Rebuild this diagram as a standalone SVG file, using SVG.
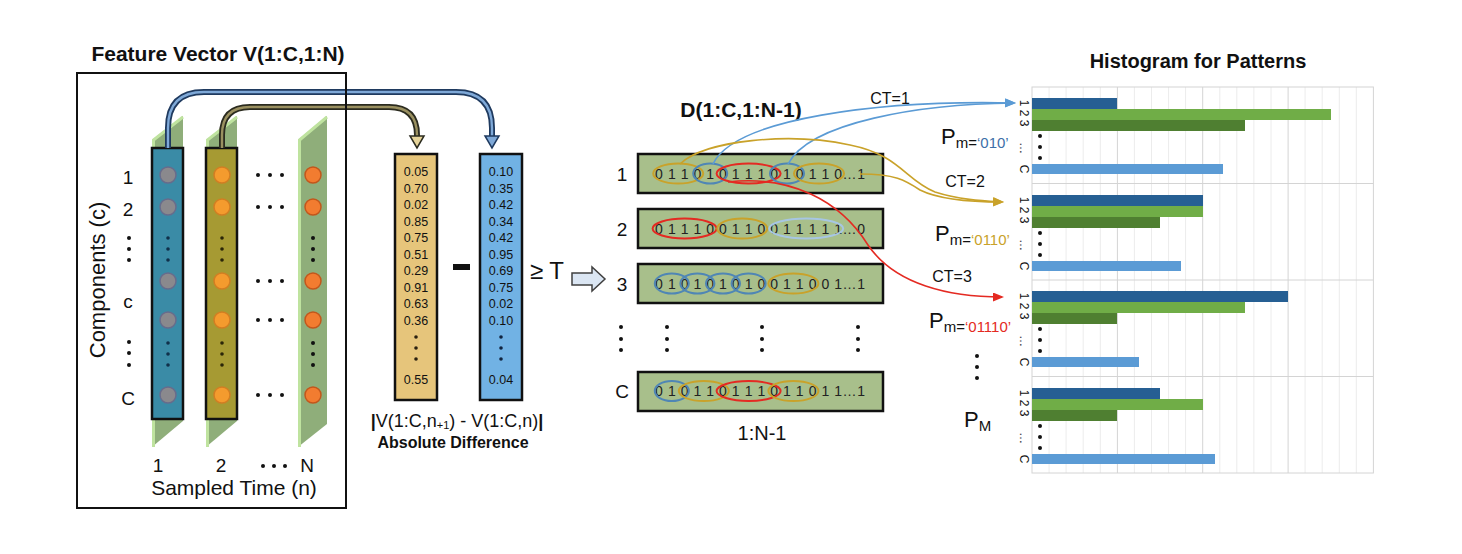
<svg xmlns="http://www.w3.org/2000/svg" width="1462" height="554" viewBox="0 0 1462 554">
<style>
text{font-family:"Liberation Sans",Arial,sans-serif;fill:#111}
.b{font-weight:bold}
.lbl{font-size:19px;text-anchor:middle}
.val{font-size:12.5px;text-anchor:middle}
.vy{fill:#3a3020}
.vb{fill:#1f3864}
.bits{font-size:14px;letter-spacing:0.56px;fill:#222}
.ct{font-size:16px;text-anchor:middle}
.plane{fill:#8fae7a}
.edge{fill:none;stroke:#bfe39f;stroke-width:3}
.col{stroke:#111;stroke-width:2.5}
.gc{fill:#8a898d;stroke:#676c8c;stroke-width:1.5}
.oc{fill:#f49b2e;stroke:#d27e22;stroke-width:1.5}
.nc{fill:#f27c30;stroke:#c2571c;stroke-width:1.5}
.row{fill:#a8bf8b;stroke:#111;stroke-width:2.5}
.ov{fill:none;stroke-width:2}
.og{stroke:#c9a22a}.ob{stroke:#4f86b5}.or{stroke:#e42a22}.olb{stroke:#a7c6e3}
.g1{stroke:#ececec;stroke-width:1;fill:none}
.g2{stroke:#d4d4d4;stroke-width:1;fill:none}
.db{fill:#265f93}.lg{fill:#70ad47}.dg{fill:#4f7f31}.lb{fill:#5b9bd5}
.ax{font-size:12px;fill:#555;text-anchor:middle}
.p{font-size:22px}
.sub{font-size:15px}
.dot{fill:#111}
.cb{fill:none;stroke:#5b9bd5;stroke-width:1.6}
.cg{fill:none;stroke:#c9a22a;stroke-width:1.6}
.cr{fill:none;stroke:#e42a22;stroke-width:1.6}
</style>
<defs>
<marker id="mb" markerWidth="11" markerHeight="9" refX="9" refY="4.5" orient="auto" markerUnits="userSpaceOnUse"><path d="M0,0 L11,4.5 L0,9 Z" fill="#5b9bd5"/></marker>
<marker id="mg" markerWidth="11" markerHeight="9" refX="9" refY="4.5" orient="auto" markerUnits="userSpaceOnUse"><path d="M0,0 L11,4.5 L0,9 Z" fill="#c9a22a"/></marker>
<marker id="mr" markerWidth="11" markerHeight="9" refX="9" refY="4.5" orient="auto" markerUnits="userSpaceOnUse"><path d="M0,0 L11,4.5 L0,9 Z" fill="#e42a22"/></marker>
</defs>
<rect width="1462" height="554" fill="#fff"/>

<!-- Feature vector -->
<g id="feature-vector">
<text x="218" y="61" class="b" font-size="21" text-anchor="middle">Feature Vector V(1:C,1:N)</text>
<polygon class="plane" points="152,140 183,116 183,421 152,447"/>
<polyline class="edge" points="153.5,447 153.5,140 183,117"/>
<polygon class="plane" points="206,140 237,116 237,421 206,447"/>
<polyline class="edge" points="207.5,447 207.5,140 237,117"/>
<polygon class="plane" points="298,140 327,116 327,424 298,447"/>
<polyline class="edge" points="299.5,447 299.5,140 327,117"/>
<rect class="col" x="152" y="148" width="31" height="271" fill="#3a8ba6"/>
<rect class="col" x="206" y="148" width="31" height="271" fill="#a69a33"/>
<g class="gc"><circle cx="168" cy="175" r="8"/><circle cx="168" cy="207" r="8"/><circle cx="168" cy="281" r="8"/><circle cx="168" cy="320" r="8"/><circle cx="168" cy="395" r="8"/></g>
<g class="oc"><circle cx="222" cy="175" r="8"/><circle cx="222" cy="207" r="8"/><circle cx="222" cy="281" r="8"/><circle cx="222" cy="320" r="8"/><circle cx="222" cy="395" r="8"/></g>
<g class="nc"><circle cx="313" cy="175" r="8"/><circle cx="313" cy="207" r="8"/><circle cx="313" cy="281" r="8"/><circle cx="313" cy="320" r="8"/><circle cx="313" cy="395" r="8"/></g>
<g fill="#10304a"><circle cx="168" cy="238" r="1.8"/><circle cx="168" cy="249" r="1.8"/><circle cx="168" cy="260" r="1.8"/><circle cx="168" cy="343" r="1.8"/><circle cx="168" cy="354" r="1.8"/><circle cx="168" cy="365" r="1.8"/></g>
<g fill="#2a2608"><circle cx="222" cy="238" r="1.8"/><circle cx="222" cy="249" r="1.8"/><circle cx="222" cy="260" r="1.8"/><circle cx="222" cy="343" r="1.8"/><circle cx="222" cy="354" r="1.8"/><circle cx="222" cy="365" r="1.8"/></g>
<g class="dot"><circle cx="313" cy="238" r="2"/><circle cx="313" cy="249" r="2"/><circle cx="313" cy="260" r="2"/><circle cx="313" cy="343" r="2"/><circle cx="313" cy="354" r="2"/><circle cx="313" cy="365" r="2"/>
<circle cx="258" cy="175" r="2"/><circle cx="270" cy="175" r="2"/><circle cx="282" cy="175" r="2"/>
<circle cx="258" cy="207" r="2"/><circle cx="270" cy="207" r="2"/><circle cx="282" cy="207" r="2"/>
<circle cx="258" cy="281" r="2"/><circle cx="270" cy="281" r="2"/><circle cx="282" cy="281" r="2"/>
<circle cx="258" cy="320" r="2"/><circle cx="270" cy="320" r="2"/><circle cx="282" cy="320" r="2"/>
<circle cx="258" cy="395" r="2"/><circle cx="270" cy="395" r="2"/><circle cx="282" cy="395" r="2"/>
<circle cx="129" cy="238" r="2"/><circle cx="129" cy="249" r="2"/><circle cx="129" cy="260" r="2"/>
<circle cx="129" cy="342" r="2"/><circle cx="129" cy="353" r="2"/><circle cx="129" cy="365" r="2"/>
<circle cx="263" cy="466" r="2"/><circle cx="274" cy="466" r="2"/><circle cx="285" cy="466" r="2"/></g>
<text class="lbl" x="128" y="184">1</text>
<text class="lbl" x="128" y="216">2</text>
<text class="lbl" x="128" y="308">c</text>
<text class="lbl" x="128" y="405">C</text>
<text class="lbl" x="158" y="472">1</text>
<text class="lbl" x="221" y="472">2</text>
<text class="lbl" x="307" y="472">N</text>
<text x="234" y="495" font-size="21" text-anchor="middle">Sampled Time (n)</text>
<text transform="translate(105,280) rotate(-90)" font-size="22" text-anchor="middle">Components (c)</text>
</g>

<!-- Absolute difference columns -->
<g id="abs-diff">
<rect x="395" y="154" width="42" height="246" fill="#e6c57b" stroke="#111" stroke-width="2.5"/>
<rect x="480" y="154" width="42" height="246" fill="#71b2e4" stroke="#111" stroke-width="2.5"/>
<g class="val vy">
<text x="416" y="176">0.05</text><text x="416" y="192.5">0.70</text><text x="416" y="209">0.02</text><text x="416" y="225.5">0.85</text><text x="416" y="242">0.75</text><text x="416" y="258.5">0.51</text><text x="416" y="275">0.29</text><text x="416" y="291.5">0.91</text><text x="416" y="308">0.63</text><text x="416" y="324.5">0.36</text><text x="416" y="384">0.55</text>
</g>
<g class="val vb">
<text x="501" y="176">0.10</text><text x="501" y="192.5">0.35</text><text x="501" y="209">0.42</text><text x="501" y="225.5">0.34</text><text x="501" y="242">0.42</text><text x="501" y="258.5">0.95</text><text x="501" y="275">0.69</text><text x="501" y="291.5">0.75</text><text x="501" y="308">0.02</text><text x="501" y="324.5">0.10</text><text x="501" y="384">0.04</text>
</g>
<g fill="#2a2010"><circle cx="416" cy="337" r="1.8"/><circle cx="416" cy="348" r="1.8"/><circle cx="416" cy="359" r="1.8"/></g>
<g fill="#10243f"><circle cx="501" cy="337" r="1.8"/><circle cx="501" cy="348" r="1.8"/><circle cx="501" cy="359" r="1.8"/></g>
<rect x="453" y="264" width="17" height="6" fill="#111"/>
<text x="547" y="279" font-size="24" text-anchor="middle">≥ T</text>
<polygon points="572,273 592,273 592,267 605,279 592,291 592,285 572,285" fill="#dbe6f3" stroke="#404040" stroke-width="1.5"/>
<text x="457" y="427" font-size="18" text-anchor="middle"><tspan font-weight="bold">|</tspan>V(1:C,n<tspan font-size="11" dy="2">+1</tspan><tspan dy="-2">) - V(1:C,n)</tspan><tspan font-weight="bold">|</tspan></text>
<text x="453" y="448" class="b" font-size="16" text-anchor="middle">Absolute Difference</text>
</g>

<!-- D matrix -->
<g id="d-matrix">
<text x="741" y="117" class="b" font-size="21" text-anchor="middle">D(1:C,1:N-1)</text>
<rect class="row" x="638" y="154" width="245" height="39"/>
<rect class="row" x="638" y="209" width="245" height="39"/>
<rect class="row" x="638" y="264" width="245" height="39"/>
<rect class="row" x="638" y="372" width="245" height="39"/>
<text class="lbl" x="622" y="181">1</text>
<text class="lbl" x="622" y="236">2</text>
<text class="lbl" x="622" y="291">3</text>
<text class="lbl" x="622" y="398">C</text>
<text class="bits" x="655.1" y="178.5">0 1 1 0 1 0 1 1 1 0 1 0 1 1 0…1</text>
<text class="bits" x="655.1" y="233.5">0 1 1 1 0 0 1 1 0 0 1 1 1 1 1…0</text>
<text class="bits" x="655.1" y="288.5">0 1 0 1 0 1 0 1 0 0 1 1 0 0 1…1</text>
<text class="bits" x="655.1" y="396">0 1 0 1 1 0 1 1 1 0 1 1 0 1 1…1</text>
<g class="ov">
<ellipse class="og" cx="678.2" cy="173.5" rx="25" ry="10"/>
<ellipse class="ob" cx="710.2" cy="173.5" rx="17" ry="10"/>
<ellipse class="or" cx="748.6" cy="173.5" rx="32" ry="10"/>
<ellipse class="ob" cx="787" cy="173.5" rx="17" ry="10"/>
<ellipse class="og" cx="819" cy="173.5" rx="25" ry="10"/>
<ellipse class="or" cx="684.6" cy="228.5" rx="32" ry="10"/>
<ellipse class="og" cx="742.2" cy="228.5" rx="25" ry="10"/>
<ellipse class="olb" cx="806.2" cy="228.5" rx="37" ry="10"/>
<ellipse class="ob" cx="671.8" cy="283.5" rx="17" ry="10"/>
<ellipse class="ob" cx="697.4" cy="283.5" rx="17" ry="10"/>
<ellipse class="ob" cx="723" cy="283.5" rx="17" ry="10"/>
<ellipse class="ob" cx="748.6" cy="283.5" rx="17" ry="10"/>
<ellipse class="og" cx="793.4" cy="283.5" rx="25" ry="10"/>
<ellipse class="ob" cx="671.8" cy="391" rx="17" ry="10"/>
<ellipse class="og" cx="703.8" cy="391" rx="25" ry="10"/>
<ellipse class="or" cx="748.6" cy="391" rx="32" ry="10"/>
<ellipse class="og" cx="793.4" cy="391" rx="25" ry="10"/>
</g>
<g class="dot">
<circle cx="621" cy="327" r="2"/><circle cx="621" cy="339" r="2"/><circle cx="621" cy="350" r="2"/>
<circle cx="667" cy="327" r="2"/><circle cx="667" cy="339" r="2"/><circle cx="667" cy="350" r="2"/>
<circle cx="762" cy="327" r="2"/><circle cx="762" cy="339" r="2"/><circle cx="762" cy="350" r="2"/>
<circle cx="858" cy="327" r="2"/><circle cx="858" cy="339" r="2"/><circle cx="858" cy="350" r="2"/>
</g>
<text x="762" y="440" font-size="20" text-anchor="middle">1:N-1</text>
</g>

<!-- Histogram -->
<g id="histogram">
<text x="1198" y="68" class="b" font-size="20" text-anchor="middle">Histogram for Patterns</text>
<path class="g1" d="M1049.1,87V473M1066.1,87V473M1083.2,87V473M1100.3,87V473M1134.4,87V473M1151.5,87V473M1168.6,87V473M1185.6,87V473M1219.8,87V473M1236.8,87V473M1253.9,87V473M1271,87V473M1305.1,87V473M1322.2,87V473M1339.3,87V473M1356.3,87V473"/>
<path class="g2" d="M1117.4,87V473M1202.7,87V473M1288.1,87V473M1032,183.5H1373.4M1032,280H1373.4M1032,376.5H1373.4"/>
<rect class="g2" x="1032" y="87" width="341.4" height="386"/>
<rect class="db" x="1032" y="98" width="85" height="11"/>
<rect class="lg" x="1032" y="109" width="299" height="11"/>
<rect class="dg" x="1032" y="120" width="213" height="11"/>
<rect class="lb" x="1032" y="164" width="191" height="10"/>
<rect class="db" x="1032" y="195" width="171" height="11"/>
<rect class="lg" x="1032" y="206" width="171" height="11"/>
<rect class="dg" x="1032" y="217" width="128" height="11"/>
<rect class="lb" x="1032" y="261" width="149" height="10"/>
<rect class="db" x="1032" y="291" width="256" height="11"/>
<rect class="lg" x="1032" y="302" width="213" height="11"/>
<rect class="dg" x="1032" y="313" width="85" height="11"/>
<rect class="lb" x="1032" y="357" width="107" height="10"/>
<rect class="db" x="1032" y="388" width="128" height="11"/>
<rect class="lg" x="1032" y="399" width="171" height="11"/>
<rect class="dg" x="1032" y="410" width="85" height="11"/>
<rect class="lb" x="1032" y="454" width="183" height="10"/>
<g class="ax">
<text transform="translate(1020,113) rotate(90)">1 2 3</text>
<text transform="translate(1020,148) rotate(90)">…</text>
<text transform="translate(1020,169) rotate(90)">C</text>
<text transform="translate(1020,210) rotate(90)">1 2 3</text>
<text transform="translate(1020,245) rotate(90)">…</text>
<text transform="translate(1020,266) rotate(90)">C</text>
<text transform="translate(1020,306) rotate(90)">1 2 3</text>
<text transform="translate(1020,341) rotate(90)">…</text>
<text transform="translate(1020,362) rotate(90)">C</text>
<text transform="translate(1020,403) rotate(90)">1 2 3</text>
<text transform="translate(1020,438) rotate(90)">…</text>
<text transform="translate(1020,459) rotate(90)">C</text>
</g>
<g class="dot">
<circle cx="1040" cy="136" r="2"/><circle cx="1040" cy="147" r="2"/><circle cx="1040" cy="158" r="2"/>
<circle cx="1040" cy="233" r="2"/><circle cx="1040" cy="244" r="2"/><circle cx="1040" cy="255" r="2"/>
<circle cx="1040" cy="329" r="2"/><circle cx="1040" cy="340" r="2"/><circle cx="1040" cy="351" r="2"/>
<circle cx="1040" cy="426" r="2"/><circle cx="1040" cy="437" r="2"/><circle cx="1040" cy="448" r="2"/>
<circle cx="977" cy="356" r="2"/><circle cx="977" cy="367" r="2"/><circle cx="977" cy="378" r="2"/>
</g>
<text x="941" y="144"><tspan class="p">P</tspan><tspan class="sub" dy="4">m=</tspan><tspan class="sub" fill="#3d6fa8">‘010’</tspan></text>
<text x="935" y="241"><tspan class="p">P</tspan><tspan class="sub" dy="4">m=</tspan><tspan class="sub" fill="#c9a22a">‘0110’</tspan></text>
<text x="929" y="328"><tspan class="p">P</tspan><tspan class="sub" dy="4">m=</tspan><tspan class="sub" fill="#e42a22">‘01110’</tspan></text>
<text x="964" y="427"><tspan class="p">P</tspan><tspan class="sub" dy="4">M</tspan></text>
</g>

<!-- Connectors -->
<g id="connectors">
<path d="M168,148 V128 Q168,92 204,92 H456 Q492,92 492,128 V137" fill="none" stroke="#1f3a5f" stroke-width="6"/>
<path d="M168,148 V128 Q168,92 204,92 H456 Q492,92 492,128 V137" fill="none" stroke="#7fa9d8" stroke-width="2.4"/>
<polygon points="485,136 499,136 492,148" fill="#7fa9d8" stroke="#1f3a5f" stroke-width="1.5"/>
<path d="M222,148 V135 Q222,107 250,107 H389 Q417,107 417,135 V137" fill="none" stroke="#2b2b1f" stroke-width="6"/>
<path d="M222,148 V135 Q222,107 250,107 H389 Q417,107 417,135 V137" fill="none" stroke="#9a9060" stroke-width="2.4"/>
<polygon points="410,136 424,136 417,148" fill="#e6d49a" stroke="#2b2b1f" stroke-width="1.5"/>
<path class="cb" d="M713,164 C 735,118 880,100 1014,103" marker-end="url(#mb)"/>
<path class="cb" d="M788,164 C 810,122 920,104 1014,103" marker-end="url(#mb)"/>
<path class="cg" d="M680,164 C 705,140 790,132 850,145 C 900,155 905,180 935,192 C 960,200 985,201 1002,202" marker-end="url(#mg)"/>
<path class="cg" d="M860,174 C 895,174 905,180 920,190 C 940,200 975,202 1002,202" marker-end="url(#mg)"/>
<path class="cr" d="M728,182 C 790,175 840,200 868,245 C 895,285 950,297 1002,297" marker-end="url(#mr)"/>
<text class="ct" x="890" y="104">CT=1</text>
<text class="ct" x="965" y="187">CT=2</text>
<text class="ct" x="952" y="282">CT=3</text>
</g>

<g id="frame">
<rect x="77" y="73" width="269" height="435" fill="none" stroke="#111" stroke-width="2"/>
</g>
</svg>
